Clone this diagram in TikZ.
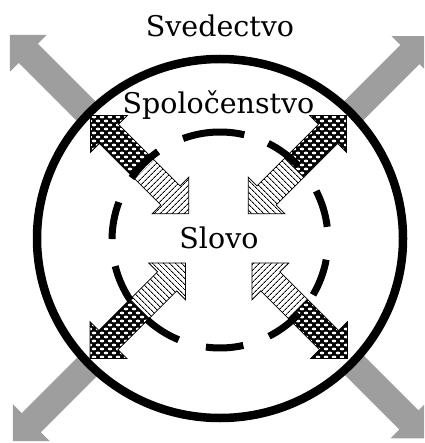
\documentclass[tikz,border=0pt]{standalone}
\usepackage{fontspec}
\setmainfont{DejaVu Serif}
\usetikzlibrary{patterns,patterns.meta}
\definecolor{arrgray}{RGB}{158,158,158}
\tikzdeclarepattern{
  name=wdots,
  type=uncolored,
  bottom left={(-1pt,-1pt)},
  top right={(9pt,9pt)},
  tile size={(8pt,8pt)},
  code={
    \fill (2pt,2pt) ellipse [x radius=2.3pt, y radius=1.4pt];
    \fill (6pt,6pt) ellipse [x radius=2.3pt, y radius=1.4pt];
  }
}
\newcommand\arrowpath[2]{(#1,-13.5) -- ({#2-26},-13.5) -- ({#2-26},-26) -- (#2,0) -- ({#2-26},26) -- ({#2-26},13.5) -- (#1,13.5) -- cycle}
\newcommand\dsh[2]{\draw[dashseg] ([shift={({-(#1)}:108)}]dc) arc[start angle={-(#1)}, end angle={-(#2)}, radius=108];}
\begin{document}
\begin{tikzpicture}[x=1pt,y=-1pt,
  lbl/.style={font=\fontsize{28.5}{34}\selectfont, inner sep=0pt},
  grayarr/.style={fill=arrgray, draw=none},
  dotarr/.style={preaction={fill=black}, pattern=wdots, pattern color=white, draw=black, line width=0.8pt},
  strarr/.style={preaction={fill=white}, pattern={Lines[angle=#1,distance=4pt,line width=1pt]}, pattern color=black, draw=black, line width=0.8pt},
  dashseg/.style={line width=7pt, line cap=butt},
  outer/.style={line width=8.5pt, draw=black, fill=white}]
\path[use as bounding box] (0,0) rectangle (424,443);
\clip (0,0) rectangle (424,443);
\coordinate (oc) at (220,238.5);
\coordinate (dc) at (220,240);
% gray outward arrows
\begin{scope}[shift={(218.5,243.5)}, rotate=135] \path[grayarr] \arrowpath{150}{295}; \end{scope}
\begin{scope}[shift={(219.75,244.75)}, rotate=45] \path[grayarr] \arrowpath{150}{295}; \end{scope}
\begin{scope}[shift={(221.5,232.5)}, rotate=225] \path[grayarr] \arrowpath{150}{295}; \end{scope}
\begin{scope}[shift={(218.75,229.75)}, rotate=-45] \path[grayarr] \arrowpath{150}{295}; \end{scope}
% outer circle
\path[outer] (oc) ellipse [x radius=183, y radius=179.5];
% inner double arrows: dotted outward part
\begin{scope}[shift={(218.5,243.5)}, rotate=135] \path[dotarr] \arrowpath{107}{181}; \end{scope}
\begin{scope}[shift={(218.5,243.5)}, rotate=45] \path[dotarr] \arrowpath{107}{181}; \end{scope}
\begin{scope}[shift={(218.75,229.75)}, rotate=225] \path[dotarr] \arrowpath{112}{182}; \end{scope}
\begin{scope}[shift={(218.75,229.75)}, rotate=-45] \path[dotarr] \arrowpath{112}{182}; \end{scope}
% striped inward part
\begin{scope}[shift={(218.5,243.5)}, rotate=315] \path[strarr=45] \arrowpath{-107}{-42}; \end{scope}
\begin{scope}[shift={(218.5,243.5)}, rotate=225] \path[strarr=-45] \arrowpath{-107}{-42}; \end{scope}
\begin{scope}[shift={(218.75,229.75)}, rotate=45] \path[strarr=-45] \arrowpath{-112}{-47}; \end{scope}
\begin{scope}[shift={(218.75,229.75)}, rotate=135] \path[strarr=45] \arrowpath{-112}{-47}; \end{scope}
% dashed inner circle
\dsh{77}{110}
\dsh{43.5}{63.5}
\dsh{7}{27}
\dsh{-30.5}{-10.5}
\dsh{-63}{-43}
\dsh{-97.5}{-77.5}
\dsh{-132.5}{-112.5}
\dsh{-166}{-146}
\dsh{159.5}{179.5}
\dsh{125}{145}
% labels
\node[lbl, anchor=base] (sv) at (220,36.5) {Svedectvo};
\node[lbl, anchor=base] (sp) at (218.5,113.3) {Spoločenstvo};
\node[lbl, anchor=base] (sl) at (219,248) {Slovo};
\end{tikzpicture}
\end{document}
